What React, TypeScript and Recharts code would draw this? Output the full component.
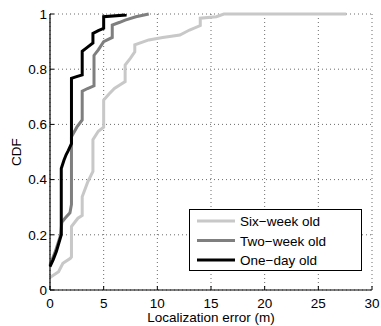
import React from 'react';
import { LineChart, Line, XAxis, YAxis, CartesianGrid } from 'recharts';

const xTicks = [0, 5, 10, 15, 20, 25, 30];
const yTicks = [0, 0.2, 0.4, 0.6, 0.8, 1];

const seriesNames = ['Six\u2212week old', 'Two\u2212week old', 'One\u2212day old'];
const seriesColors = ['#c8c8c8', '#7f7f7f', '#000000'];

const sixWeekErr = [0, 0.8, 1.2, 1.9, 2.0, 2.0, 2.6, 3.0, 3.0, 3.5, 4.0, 4.0, 4.5, 5.0, 5.0, 5.5, 6.0, 6.5, 7.0, 7.0, 7.5, 7.9, 7.9, 9.2, 10.5, 12.1, 13.0, 14.0, 14.0, 15.5, 16.2, 27.6];
const sixWeekCdf = [0.045, 0.066, 0.097, 0.115, 0.12, 0.23, 0.26, 0.27, 0.338, 0.39, 0.43, 0.545, 0.575, 0.59, 0.688, 0.71, 0.73, 0.743, 0.755, 0.815, 0.84, 0.863, 0.888, 0.906, 0.915, 0.924, 0.942, 0.958, 0.985, 0.99, 1.0, 1.0];

const twoWeekErr = [0, 0.5, 1.0, 1.1, 1.4, 1.86, 2.0, 2.0, 2.5, 3.0, 3.0, 3.5, 4.1, 4.1, 4.5, 5.0, 5.8, 5.8, 6.5, 7.0, 8.0, 9.2];
const twoWeekCdf = [0.09, 0.14, 0.2, 0.245, 0.26, 0.28, 0.31, 0.555, 0.59, 0.616, 0.72, 0.73, 0.74, 0.85, 0.87, 0.9, 0.915, 0.96, 0.97, 0.978, 0.99, 1.0];

const oneDayErr = [0, 0.3, 0.6, 0.9, 1.05, 1.05, 1.3, 1.5, 1.7, 2.0, 2.0, 2.4, 3.0, 3.0, 3.5, 4.0, 4.0, 4.5, 5.0, 5.0, 7.0, 7.0];
const oneDayCdf = [0.085, 0.11, 0.14, 0.18, 0.2, 0.44, 0.47, 0.49, 0.505, 0.53, 0.767, 0.772, 0.779, 0.865, 0.88, 0.895, 0.93, 0.94, 0.948, 0.99, 0.996, 1.0];

const toData = (xs: number[], ys: number[]) => xs.map((x, i) => ({ x, y: ys[i] }));

const seriesData = [
  toData(sixWeekErr, sixWeekCdf),
  toData(twoWeekErr, twoWeekCdf),
  toData(oneDayErr, oneDayCdf),
];

const FONT = "'Liberation Sans', Arial, Helvetica, sans-serif";
const FS = 13.5;

const LegendBox = () => (
  <div style={{ position: 'absolute', left: 189, top: 209, width: 173, height: 62, boxSizing: 'border-box', border: '1px solid #000', background: '#fff' }}>
    <svg width={171} height={60} style={{ display: 'block' }}>
      {seriesNames.map((n, i) => {
        const cy = 11 + i * 19.5;
        return (
          <g key={n}>
            <line x1={7} x2={45} y1={cy} y2={cy} stroke={seriesColors[i]} strokeWidth={3} />
            <text x={50} y={cy + 5} fontSize={FS} fontFamily={FONT} fill="#000">{n}</text>
          </g>
        );
      })}
    </svg>
  </div>
);

export default function App() {
  return (
    <div style={{ position: 'absolute', left: 0, top: 0, width: 381, height: 326, background: '#fff' }}>
      <LineChart width={381} height={326} margin={{ top: 14, right: 9, bottom: 0, left: 0 }}>
        <CartesianGrid stroke="#444" strokeDasharray="1 3" strokeWidth={0.8} />
        <XAxis
          dataKey="x"
          type="number"
          domain={[0, 30]}
          ticks={xTicks}
          interval={0}
          height={36}
          tickSize={-4}
          tickMargin={12}
          axisLine={{ stroke: '#000', strokeWidth: 1.2 }}
          tickLine={{ stroke: '#000' }}
          tick={{ fontSize: FS, fontFamily: FONT, fill: '#000' }}
          label={{ value: 'Localization error (m)', position: 'insideBottom', offset: 4, fontSize: FS, fontFamily: FONT, fill: '#000' }}
        />
        <XAxis
          xAxisId="top"
          orientation="top"
          dataKey="x"
          type="number"
          domain={[0, 30]}
          ticks={xTicks}
          height={0}
          tickSize={-4}
          tick={false}
          axisLine={{ stroke: '#000', strokeWidth: 1.2 }}
          tickLine={{ stroke: '#000' }}
        />
        <YAxis
          type="number"
          domain={[0, 1]}
          ticks={yTicks}
          interval={0}
          width={50}
          tickSize={-4}
          tickMargin={7}
          axisLine={{ stroke: '#000', strokeWidth: 1.2 }}
          tickLine={{ stroke: '#000' }}
          tick={{ fontSize: FS, fontFamily: FONT, fill: '#000' }}
          tickFormatter={(v: number) => String(v)}
          label={{
            value: 'CDF',
            content: () => (
              <text x={16} y={152} transform="rotate(-90, 16, 152)" textAnchor="middle" dominantBaseline="central" fontSize={FS} fontFamily={FONT} fill="#000">CDF</text>
            ),
          }}
        />
        <YAxis
          yAxisId="right"
          orientation="right"
          type="number"
          domain={[0, 1]}
          ticks={yTicks}
          width={0}
          tickSize={-4}
          tick={false}
          axisLine={{ stroke: '#000', strokeWidth: 1.2 }}
          tickLine={{ stroke: '#000' }}
        />
        {seriesData.map((d, i) => (
          <Line
            key={seriesNames[i]}
            data={d}
            dataKey="y"
            name={seriesNames[i]}
            type="linear"
            stroke={seriesColors[i]}
            strokeWidth={3}
            dot={false}
            activeDot={false}
            isAnimationActive={false}
          />
        ))}
      </LineChart>
      <LegendBox />
    </div>
  );
}
